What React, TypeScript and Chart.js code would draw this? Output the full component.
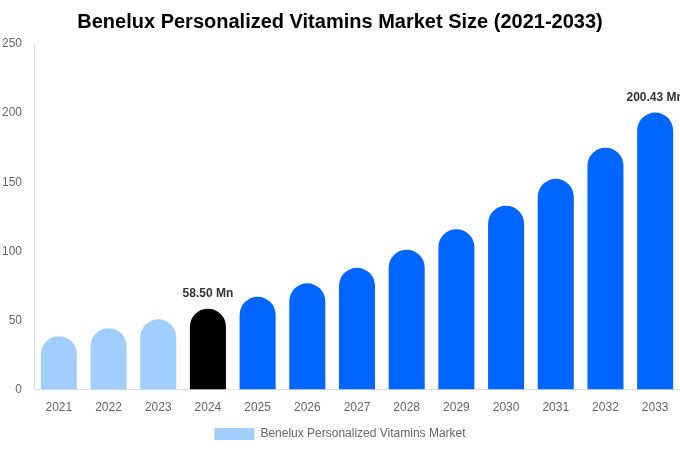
import React, { useEffect, useRef } from "react";
import { Chart, registerables } from "chart.js";

Chart.register(...registerables);

const years = ["2021", "2022", "2023", "2024", "2025", "2026", "2027", "2028", "2029", "2030", "2031", "2032", "2033"];
const marketSize = [38.6, 44.4, 50.8, 58.5, 67.1, 76.9, 88.1, 101.2, 116.0, 133.0, 152.5, 175.0, 200.43];
const barColors = ["#a0cfff", "#a0cfff", "#a0cfff", "#000000", "#0066ff", "#0066ff", "#0066ff", "#0066ff", "#0066ff", "#0066ff", "#0066ff", "#0066ff", "#0066ff"];
const labelledYears = ["2024", "2033"];
const yTicks = [0, 50, 100, 150, 200, 250];

const valueLabels = {
  id: "valueLabels",
  afterDatasetsDraw(chart: any) {
    const ctx = chart.ctx;
    const meta = chart.getDatasetMeta(0);
    ctx.save();
    ctx.font = "bold 12px 'Liberation Sans', Arial, sans-serif";
    ctx.fillStyle = "#333333";
    ctx.textAlign = "center";
    ctx.textBaseline = "bottom";
    meta.data.forEach((bar: any, i: number) => {
      if (labelledYears.includes(years[i])) {
        ctx.fillText(marketSize[i].toFixed(2) + " Mn", bar.x, bar.y - 9);
      }
    });
    ctx.restore();
  },
};

export default function App() {
  const ref = useRef<HTMLCanvasElement>(null);
  useEffect(() => {
    document.body.style.margin = "0";
    const chart = new Chart(ref.current!, {
      type: "bar",
      data: {
        labels: years,
        datasets: [
          {
            label: "Benelux Personalized Vitamins Market",
            data: marketSize,
            backgroundColor: barColors,
            borderRadius: { topLeft: 20, topRight: 20, bottomLeft: 0, bottomRight: 0 },
            borderSkipped: false,
            categoryPercentage: 0.725,
            barPercentage: 1,
          },
        ],
      },
      options: {
        animation: false,
        responsive: false,
        maintainAspectRatio: false,
        layout: { padding: { left: 0, right: 0, top: 0, bottom: 0 } },
        font: { family: "'Liberation Sans', Arial, sans-serif" } as any,
        plugins: {
          title: {
            display: true,
            text: "Benelux Personalized Vitamins Market Size (2021-2033)",
            color: "#000000",
            font: { size: 20, weight: "bold", family: "'Liberation Sans', Arial, sans-serif" },
            padding: { top: 10, bottom: 10 },
          },
          legend: {
            display: true,
            position: "bottom",
            labels: {
              color: "#666666",
              boxWidth: 40,
              boxHeight: 12,
              font: { size: 12, family: "'Liberation Sans', Arial, sans-serif" },
            },
          },
          tooltip: { enabled: false },
        },
        scales: {
          x: {
            grid: { display: false },
            border: { display: true, color: "#dddddd" },
            ticks: { color: "#666666", font: { size: 12, family: "'Liberation Sans', Arial, sans-serif" } },
          },
          y: {
            min: 0,
            max: 250,
            grid: { display: false, drawTicks: false },
            border: { display: true, color: "#dddddd" },
            afterBuildTicks: (axis: any) => {
              axis.ticks = yTicks.map((v) => ({ value: v }));
            },
            afterFit: (axis: any) => {
              axis.width = 34;
            },
            ticks: { color: "#666666", padding: 12, font: { size: 12, family: "'Liberation Sans', Arial, sans-serif" } },
          },
        },
      },
      plugins: [valueLabels],
    });
    return () => chart.destroy();
  }, []);
  return (
    <div style={{ position: "absolute", left: 0, top: 0, width: 680, height: 450 }}>
      <canvas ref={ref} width={680} height={450} style={{ width: 680, height: 450 }} />
    </div>
  );
}
